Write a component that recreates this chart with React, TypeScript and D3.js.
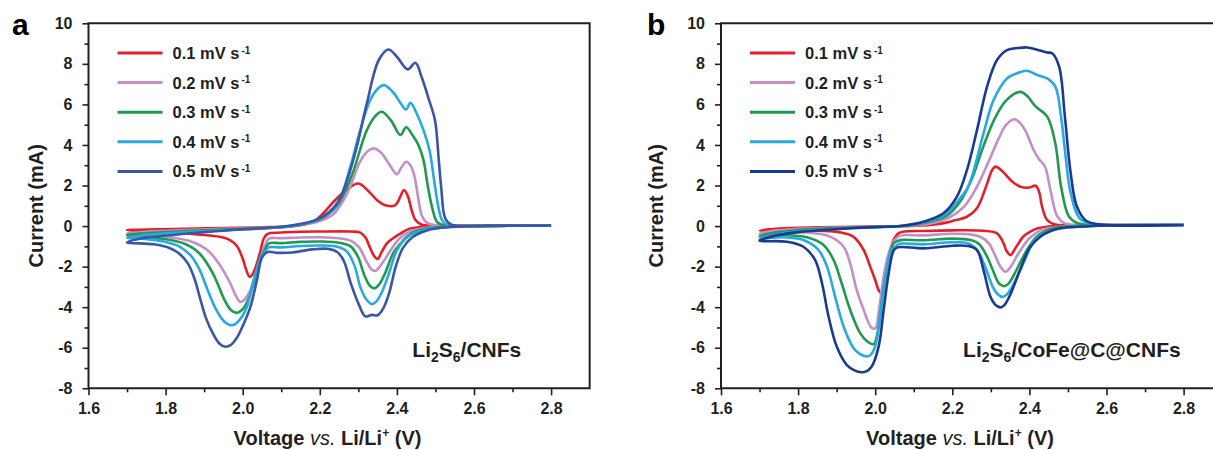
import React, { useRef, useEffect } from 'react';
import * as d3 from 'd3';

// scan rates (legend) and colours
const rates = ['0.1', '0.2', '0.3', '0.4', '0.5'];
const coloursA = ['#e3202a', '#c48fc8', '#1f9a4e', '#27a9e1', '#3a56a5'];
const coloursB = ['#e3202a', '#c48fc8', '#1f9a4e', '#27a9e1', '#1a3b8e'];

const xTicks = [1.6, 1.8, 2.0, 2.2, 2.4, 2.6, 2.8];
const xMinor = [1.7, 1.9, 2.1, 2.3, 2.5, 2.7];
const yTicks = [-8, -6, -4, -2, 0, 2, 4, 6, 8, 10];
const yMinor = [-7, -5, -3, -1, 1, 3, 5, 7, 9];

// [voltage V, current mA] : cathodic sweep 2.8 -> 1.7, then anodic sweep 1.7 -> 2.8
// panel a : Li2S6/CNFs
const cvA01 = [
  [2.8, 0.03], [2.65, 0.01], [2.5, 0.0], [2.46, -0.05], [2.43, -0.15], [2.41, -0.36], [2.39, -0.6], [2.374, -0.85],
  [2.36, -1.3], [2.35, -1.62], [2.34, -1.45], [2.331, -1.1], [2.318, -0.55], [2.305, -0.32], [2.28, -0.27], [2.2, -0.27],
  [2.15, -0.28], [2.1, -0.32], [2.065, -0.38], [2.055, -0.6], [2.045, -1.3], [2.035, -1.95], [2.025, -2.4], [2.018, -2.5],
  [2.008, -2.1], [2.0, -1.6], [1.985, -0.98], [1.968, -0.7], [1.94, -0.53], [1.89, -0.42], [1.8, -0.3], [1.7, -0.2],
  [1.75, -0.17], [1.85, -0.13], [1.95, -0.1], [2.05, -0.06], [2.12, -0.02], [2.16, 0.08], [2.185, 0.25], [2.205, 0.55],
  [2.236, 1.2], [2.27, 1.8], [2.3, 2.1], [2.33, 1.65], [2.35, 1.25], [2.37, 1.03], [2.395, 1.02], [2.41, 1.5],
  [2.418, 1.78], [2.428, 1.5], [2.438, 0.8], [2.448, 0.3], [2.465, 0.07], [2.5, 0.03], [2.65, 0.03], [2.8, 0.03],
];
const cvA02 = [
  [2.8, 0.03], [2.6, 0.0], [2.52, -0.03], [2.47, -0.1], [2.43, -0.3], [2.405, -0.65], [2.385, -1.15], [2.365, -1.75],
  [2.345, -2.2], [2.335, -2.15], [2.32, -1.7], [2.302, -1.05], [2.28, -0.72], [2.25, -0.6], [2.2, -0.55], [2.15, -0.56],
  [2.1, -0.6], [2.068, -0.62], [2.058, -0.95], [2.045, -1.6], [2.03, -2.6], [2.015, -3.35], [2.0, -3.7], [1.993, -3.73],
  [1.98, -3.35], [1.968, -2.83], [1.938, -1.84], [1.908, -1.18], [1.868, -0.77], [1.818, -0.56], [1.768, -0.44], [1.7, -0.36],
  [1.75, -0.28], [1.85, -0.2], [1.95, -0.14], [2.05, -0.09], [2.12, -0.03], [2.16, 0.08], [2.2, 0.25], [2.236, 0.6],
  [2.271, 1.61], [2.305, 3.2], [2.325, 3.7], [2.341, 3.83], [2.36, 3.6], [2.38, 3.05], [2.4, 2.56], [2.412, 2.9],
  [2.424, 3.17], [2.435, 3.0], [2.445, 2.5], [2.456, 1.3], [2.465, 0.5], [2.478, 0.16], [2.5, 0.05], [2.65, 0.03], [2.8, 0.03],
];
const cvA03 = [
  [2.8, 0.03], [2.6, 0.0], [2.52, -0.04], [2.47, -0.15], [2.43, -0.45], [2.41, -0.85], [2.39, -1.35], [2.37, -2.3],
  [2.355, -2.85], [2.342, -3.07], [2.33, -2.95], [2.315, -2.4], [2.3, -1.55], [2.28, -1.0], [2.25, -0.82], [2.2, -0.76],
  [2.15, -0.78], [2.1, -0.84], [2.068, -0.85], [2.058, -1.15], [2.045, -1.6], [2.03, -2.7], [2.015, -3.6], [2.0, -4.1],
  [1.985, -4.28], [1.97, -4.15], [1.953, -3.65], [1.923, -2.34], [1.888, -1.35], [1.848, -0.86], [1.788, -0.61], [1.7, -0.45],
  [1.75, -0.35], [1.85, -0.25], [1.95, -0.17], [2.05, -0.1], [2.11, -0.04], [2.15, 0.07], [2.2, 0.33], [2.245, 1.0],
  [2.27, 1.9], [2.288, 2.76], [2.322, 4.73], [2.345, 5.45], [2.361, 5.64], [2.385, 5.2], [2.409, 4.49], [2.424, 4.87],
  [2.44, 4.5], [2.456, 3.99], [2.469, 3.25], [2.48, 2.0], [2.491, 0.95], [2.504, 0.21], [2.52, 0.05], [2.65, 0.03], [2.8, 0.03],
];
const cvA04 = [
  [2.8, 0.03], [2.6, 0.0], [2.53, -0.05], [2.47, -0.2], [2.43, -0.5], [2.4, -1.2], [2.38, -2.3], [2.36, -3.3],
  [2.345, -3.75], [2.335, -3.85], [2.32, -3.6], [2.305, -3.0], [2.29, -1.95], [2.27, -1.25], [2.24, -1.0], [2.2, -0.96],
  [2.15, -0.98], [2.1, -1.05], [2.068, -1.05], [2.058, -1.25], [2.046, -1.6], [2.028, -2.7], [2.011, -3.98], [1.993, -4.6],
  [1.975, -4.88], [1.96, -4.82], [1.945, -4.55], [1.928, -4.0], [1.908, -3.1], [1.888, -2.15], [1.865, -1.45], [1.835, -1.0],
  [1.795, -0.76], [1.745, -0.63], [1.7, -0.58],
  [1.74, -0.45], [1.8, -0.36], [1.9, -0.25], [2.0, -0.16], [2.08, -0.08], [2.14, 0.05], [2.2, 0.35], [2.245, 1.05],
  [2.279, 2.92], [2.305, 4.73], [2.335, 6.38], [2.365, 6.95], [2.39, 6.6], [2.41, 6.05], [2.424, 5.75], [2.435, 6.08],
  [2.45, 5.6], [2.469, 4.73], [2.485, 3.7], [2.497, 2.2], [2.507, 1.0], [2.517, 0.3], [2.53, 0.06], [2.65, 0.03], [2.8, 0.03],
];
const cvA05 = [
  [2.8, 0.03], [2.6, 0.0], [2.53, -0.06], [2.48, -0.2], [2.44, -0.55], [2.415, -1.1], [2.397, -2.0], [2.38, -3.3],
  [2.365, -4.05], [2.35, -4.4], [2.335, -4.38], [2.318, -4.45], [2.302, -3.9], [2.28, -2.8], [2.262, -1.7], [2.245, -1.28],
  [2.22, -1.12], [2.18, -1.15], [2.13, -1.3], [2.09, -1.32], [2.065, -1.28], [2.05, -1.55], [2.037, -2.66], [2.02, -3.98],
  [2.003, -4.8], [1.985, -5.5], [1.97, -5.85], [1.955, -5.95], [1.94, -5.8], [1.923, -5.3], [1.905, -4.55], [1.89, -3.6],
  [1.875, -2.6], [1.858, -1.85], [1.835, -1.35], [1.81, -1.08], [1.77, -0.9], [1.7, -0.8],
  [1.74, -0.6], [1.818, -0.44], [1.9, -0.3], [1.968, -0.2], [2.068, -0.08], [2.13, 0.04], [2.2, 0.38], [2.245, 1.12],
  [2.271, 2.27], [2.296, 3.91], [2.322, 6.05], [2.353, 8.19], [2.378, 8.71], [2.4, 8.35], [2.428, 7.73], [2.448, 8.05],
  [2.465, 7.3], [2.482, 6.3], [2.499, 5.2], [2.508, 3.4], [2.515, 1.9], [2.525, 0.4], [2.54, 0.08], [2.65, 0.03], [2.8, 0.03],
];

// panel b : Li2S6/CoFe@C@CNFs
const cvB01 = [
  [2.8, 0.05], [2.6, 0.03], [2.5, 0.0], [2.45, -0.02], [2.42, -0.12], [2.4, -0.3], [2.385, -0.5], [2.365, -1.05],
  [2.351, -1.43], [2.34, -1.2], [2.333, -0.85], [2.316, -0.36], [2.281, -0.23], [2.2, -0.21], [2.125, -0.24], [2.072, -0.28],
  [2.061, -0.35], [2.05, -0.6], [2.037, -1.34], [2.026, -2.49], [2.017, -3.3], [2.01, -3.2], [2.0, -2.66], [1.987, -2.0],
  [1.97, -1.18], [1.944, -0.53], [1.909, -0.31], [1.823, -0.22], [1.7, -0.22],
  [1.75, -0.12], [1.85, -0.06], [1.95, -0.03], [2.05, -0.01], [2.12, 0.03], [2.17, 0.12], [2.2, 0.25], [2.238, 0.46],
  [2.263, 0.85], [2.288, 1.97], [2.303, 2.75], [2.312, 2.93], [2.33, 2.7], [2.355, 2.2], [2.377, 1.94], [2.4, 1.9],
  [2.416, 1.99], [2.425, 1.7], [2.433, 0.95], [2.446, 0.3], [2.467, 0.08], [2.5, 0.05], [2.65, 0.05], [2.8, 0.05],
];
const cvB02 = [
  [2.8, 0.05], [2.6, 0.03], [2.5, 0.0], [2.47, -0.05], [2.43, -0.2], [2.4, -0.6], [2.37, -1.4], [2.35, -2.05],
  [2.338, -2.25], [2.325, -2.0], [2.31, -1.4], [2.295, -0.85], [2.275, -0.55], [2.25, -0.42], [2.2, -0.38], [2.125, -0.46],
  [2.072, -0.45], [2.062, -0.5], [2.05, -0.7], [2.035, -1.34], [2.022, -2.49], [2.011, -3.97], [2.0, -5.05], [1.99, -5.0],
  [1.97, -4.13], [1.952, -3.15], [1.935, -1.84], [1.918, -1.02], [1.883, -0.52], [1.823, -0.32], [1.7, -0.38],
  [1.74, -0.22], [1.8, -0.14], [1.9, -0.07], [2.0, -0.03], [2.08, 0.0], [2.14, 0.12], [2.19, 0.4], [2.23, 0.95],
  [2.26, 1.8], [2.29, 3.0], [2.32, 4.3], [2.34, 5.0], [2.362, 5.27], [2.375, 5.1], [2.39, 4.7], [2.411, 3.75],
  [2.425, 3.3], [2.44, 2.95], [2.456, 1.64], [2.472, 0.49], [2.492, 0.13], [2.53, 0.05], [2.65, 0.05], [2.8, 0.05],
];
const cvB03 = [
  [2.8, 0.05], [2.6, 0.03], [2.52, 0.0], [2.46, -0.12], [2.42, -0.5], [2.39, -1.3], [2.36, -2.4], [2.345, -2.85],
  [2.333, -2.96], [2.32, -2.8], [2.31, -2.4], [2.29, -1.5], [2.27, -0.9], [2.25, -0.7], [2.2, -0.62], [2.125, -0.7],
  [2.072, -0.68], [2.06, -0.72], [2.048, -0.85], [2.035, -1.67], [2.02, -3.31], [2.009, -4.95], [1.996, -5.82], [1.98, -5.7],
  [1.961, -5.28], [1.935, -4.13], [1.913, -2.82], [1.892, -1.67], [1.866, -0.93], [1.823, -0.55], [1.762, -0.45], [1.7, -0.5],
  [1.74, -0.32], [1.8, -0.2], [1.9, -0.1], [2.0, -0.04], [2.07, 0.0], [2.13, 0.17], [2.185, 0.5], [2.22, 1.2],
  [2.25, 2.3], [2.28, 3.9], [2.31, 5.3], [2.34, 6.2], [2.377, 6.62], [2.395, 6.4], [2.416, 5.9], [2.446, 5.41],
  [2.467, 4.1], [2.482, 1.97], [2.502, 0.49], [2.523, 0.16], [2.56, 0.06], [2.65, 0.05], [2.8, 0.05],
];
const cvB04 = [
  [2.8, 0.05], [2.6, 0.03], [2.53, -0.02], [2.47, -0.15], [2.43, -0.45], [2.41, -0.8], [2.385, -1.8], [2.355, -3.0],
  [2.34, -3.4], [2.329, -3.49], [2.315, -3.3], [2.305, -3.0], [2.285, -2.0], [2.265, -1.2], [2.24, -0.85], [2.2, -0.8],
  [2.125, -0.9], [2.072, -0.86], [2.06, -0.9], [2.043, -1.18], [2.026, -2.66], [2.013, -4.46], [2.0, -5.93], [1.988, -6.35],
  [1.978, -6.43], [1.96, -6.3], [1.944, -6.02], [1.918, -4.95], [1.896, -3.48], [1.875, -2.0], [1.853, -1.18], [1.814, -0.69],
  [1.762, -0.55], [1.7, -0.62],
  [1.73, -0.45], [1.8, -0.26], [1.9, -0.13], [2.0, -0.05], [2.065, 0.0], [2.13, 0.2], [2.18, 0.55], [2.215, 1.25],
  [2.24, 1.9], [2.255, 2.7], [2.281, 4.57], [2.307, 6.21], [2.342, 7.28], [2.37, 7.55], [2.394, 7.66], [2.42, 7.45],
  [2.446, 7.28], [2.467, 6.89], [2.482, 5.41], [2.492, 3.77], [2.507, 1.64], [2.533, 0.33], [2.58, 0.08], [2.65, 0.05], [2.8, 0.05],
];
const cvB05 = [
  [2.8, 0.05], [2.6, 0.03], [2.54, -0.02], [2.5, -0.06], [2.47, -0.15], [2.43, -0.5], [2.4, -1.1], [2.375, -2.2],
  [2.35, -3.4], [2.335, -3.9], [2.325, -4.01], [2.31, -3.85], [2.299, -3.49], [2.281, -2.17], [2.264, -1.18], [2.24, -0.98],
  [2.2, -0.97], [2.125, -1.1], [2.072, -1.03], [2.058, -1.05], [2.048, -1.2], [2.035, -2.33], [2.022, -4.13], [2.009, -5.93],
  [1.991, -6.92], [1.975, -7.18], [1.965, -7.21], [1.945, -7.1], [1.926, -6.84], [1.9, -5.93], [1.879, -4.46], [1.862, -2.82],
  [1.844, -1.67], [1.814, -1.02], [1.771, -0.77], [1.7, -0.72],
  [1.73, -0.52], [1.8, -0.3], [1.9, -0.15], [2.0, -0.05], [2.065, 0.0], [2.125, 0.21], [2.177, 0.63], [2.212, 1.45],
  [2.238, 2.76], [2.264, 4.73], [2.29, 6.87], [2.316, 8.19], [2.342, 8.68], [2.37, 8.78], [2.394, 8.81], [2.42, 8.7],
  [2.446, 8.56], [2.459, 8.52], [2.477, 7.87], [2.492, 5.41], [2.507, 2.62], [2.523, 0.98], [2.548, 0.25], [2.6, 0.06], [2.8, 0.05],
];

const ink = '#231f20';
const font = "'Liberation Sans', Arial, Helvetica, sans-serif";

const panels = [
  { left: 88.5, letter: 'a', letterX: 12, titleX: 43, sampleV: 2.44, tail: '/CNFs', curves: [cvA01, cvA02, cvA03, cvA04, cvA05], colours: coloursA },
  { left: 721, letter: 'b', letterX: 647, titleX: 663, sampleV: 2.228, tail: '/CoFe@C@CNFs', curves: [cvB01, cvB02, cvB03, cvB04, cvB05], colours: coloursB },
];

const drawPanel = (svg, p) => {
  const g = svg.append('g');
  const x = d3.scaleLinear().domain([1.6, 2.9]).range([p.left, p.left + 1.3 * 385.5]);
  const y = d3.scaleLinear().domain([-8, 10]).range([388.3, 23.3]);

  // curves
  const line = d3.line()
    .x(d => x(d[0]))
    .y(d => y(d[1]))
    .curve(d3.curveCatmullRom.alpha(0.5));

  p.curves.forEach((c, i) => {
    g.append('path')
      .datum(c)
      .attr('fill', 'none')
      .attr('stroke', p.colours[i])
      .attr('stroke-width', 2.6)
      .attr('stroke-linejoin', 'round')
      .attr('d', line);
  });

  // axes
  const styleAxis = (a) => {
    a.select('.domain').remove();
    a.selectAll('line').attr('stroke', ink).attr('stroke-width', 1.6);
    a.selectAll('text')
      .attr('fill', ink)
      .attr('font-family', font)
      .attr('font-size', 16)
      .attr('font-weight', 'bold');
  };

  g.append('g')
    .attr('transform', `translate(0,${y(-8)})`)
    .call(d3.axisBottom(x).tickValues(xTicks).tickSize(7).tickPadding(7).tickFormat(d3.format('.1f')))
    .call(styleAxis);
  g.append('g')
    .attr('transform', `translate(0,${y(-8)})`)
    .call(d3.axisBottom(x).tickValues(xMinor).tickSize(4).tickFormat(() => ''))
    .call(styleAxis);
  g.append('g')
    .attr('transform', `translate(${x(1.6)},0)`)
    .call(d3.axisLeft(y).tickValues(yTicks).tickSize(6).tickPadding(10).tickFormat(d => String(d)))
    .call(styleAxis);
  g.append('g')
    .attr('transform', `translate(${x(1.6)},0)`)
    .call(d3.axisLeft(y).tickValues(yMinor).tickSize(4).tickFormat(() => ''))
    .call(styleAxis);

  // frame
  g.append('path')
    .attr('d', `M${x(1.6)},${y(10)}H${x(2.9)}V${y(-8)}H${x(1.6)}Z`)
    .attr('fill', 'none')
    .attr('stroke', ink)
    .attr('stroke-width', 2);

  // legend
  rates.forEach((r, i) => {
    const ly = 53 + i * 29.6;
    const lx = p.left + 29;
    g.append('line')
      .attr('x1', lx).attr('x2', lx + 45)
      .attr('y1', ly).attr('y2', ly)
      .attr('stroke', p.colours[i])
      .attr('stroke-width', 3);
    const t = g.append('text')
      .attr('x', lx + 55).attr('y', ly + 6)
      .attr('font-family', font).attr('font-size', 16.5).attr('font-weight', 'bold')
      .attr('fill', ink);
    t.append('tspan').text(`${r} mV s`);
    t.append('tspan').attr('dx', 2).attr('dy', -5.5).attr('font-size', 10).text('-1');
  });

  // sample label
  const s = g.append('text')
    .attr('x', x(p.sampleV)).attr('y', 357)
    .attr('font-family', font).attr('font-size', 21).attr('font-weight', 'bold')
    .attr('fill', ink);
  s.append('tspan').text('Li');
  s.append('tspan').attr('dy', 5).attr('font-size', 14).text('2');
  s.append('tspan').attr('dy', -5).text('S');
  s.append('tspan').attr('dy', 5).attr('font-size', 14).text('6');
  s.append('tspan').attr('dy', -5).text(p.tail);

  // axis titles
  svg.append('text')
    .attr('transform', `translate(${p.titleX},${y(1)}) rotate(-90)`)
    .attr('text-anchor', 'middle')
    .attr('font-family', font).attr('font-size', 20).attr('font-weight', 'bold')
    .attr('fill', ink)
    .text('Current (mA)');

  const xt = svg.append('text')
    .attr('x', x(2.22)).attr('y', 444.5)
    .attr('text-anchor', 'middle')
    .attr('font-family', font).attr('font-size', 20).attr('font-weight', 'bold')
    .attr('fill', ink);
  xt.append('tspan').text('Voltage ');
  xt.append('tspan').attr('font-style', 'italic').attr('font-weight', 'normal').text('vs.');
  xt.append('tspan').text(' Li/Li');
  xt.append('tspan').attr('dy', -8).attr('font-size', 12).text('+');
  xt.append('tspan').attr('dy', 8).text(' (V)');

  // panel letter
  svg.append('text')
    .attr('x', p.letterX).attr('y', 35)
    .attr('font-family', font).attr('font-size', 30).attr('font-weight', 'bold')
    .attr('fill', '#000')
    .text(p.letter);
};

const plot = (svgRef) => {
  const svg = d3.select(svgRef.current);
  svg.selectAll('*').remove();
  svg.append('rect').attr('width', 1213).attr('height', 450).attr('fill', '#fff');
  panels.forEach(p => drawPanel(svg, p));
};

export default function App() {
  const svgRef = useRef(null);

  useEffect(() => {
    plot(svgRef);
  }, []);

  return (
    <svg
      ref={svgRef}
      width={1213}
      height={450}
      style={{ position: 'absolute', left: 0, top: 0, display: 'block' }}
    />
  );
}
